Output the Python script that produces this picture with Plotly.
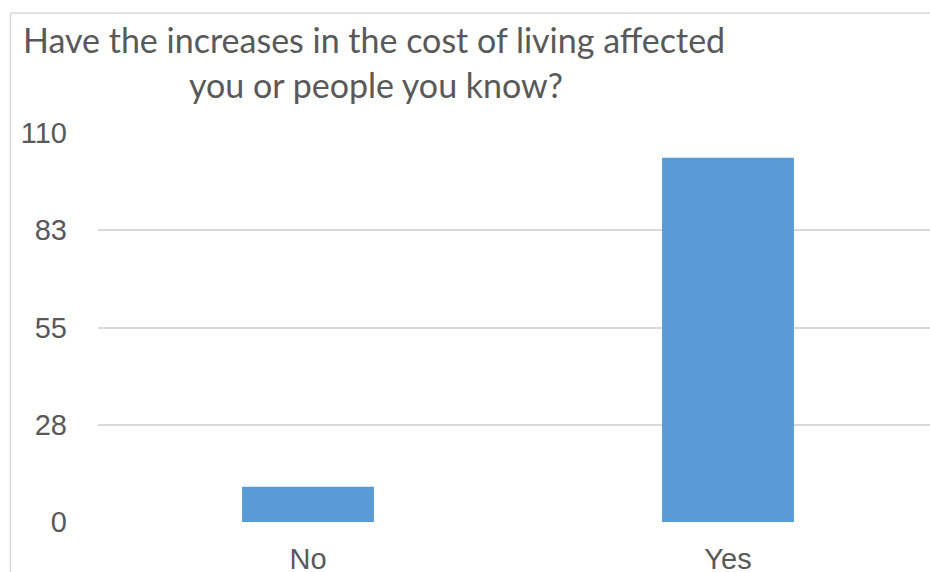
import plotly.graph_objects as go

categories = ["No", "Yes"]
values = [10, 103]
tick_values = [0, 27.5, 55, 82.5, 110]
tick_labels = ["0", "28", "55", "83", "110"]
title_lines = ["Have the increases in the cost of living affected", "you or people you know?"]

W, H = 930, 572
L, R, T, B = 98, 0, 133, 572 - 522
pw, ph = W - L - R, H - T - B

def px_x(x):
    return (x - L) / pw

def px_y(y):
    return (H - B - y) / ph

fig = go.Figure()
fig.add_trace(go.Bar(x=categories, y=values, marker=dict(color="#5b9bd5", line=dict(width=0)), width=0.314))

grid = "#d9d9d9"
txt = "#595959"

fig.update_layout(
    width=W, height=H,
    margin=dict(l=L, r=R, t=T, b=B, autoexpand=False),
    plot_bgcolor="white", paper_bgcolor="white",
    showlegend=False,
    xaxis=dict(range=[-0.5, 1.5 - 8 / 420], showgrid=False, zeroline=False, showline=False,
               ticks="", tickfont=dict(family="Liberation Sans, Arial", size=29, color=txt),
               ticklabelstandoff=17),
    yaxis=dict(range=[0, 110], tickvals=tick_values, ticktext=tick_labels, showgrid=True,
               gridcolor=grid, gridwidth=2, zeroline=False, showline=False, ticks="",
               tickfont=dict(family="Liberation Sans, Arial", size=29, color=txt),
               ticklabelstandoff=30),
    shapes=[
        dict(type="line", xref="paper", yref="paper", x0=px_x(10.5), x1=px_x(10.5), y0=px_y(13), y1=px_y(600),
             line=dict(color=grid, width=1.5)),
        dict(type="line", xref="paper", yref="paper", x0=px_x(10.5), x1=px_x(960), y0=px_y(13), y1=px_y(13),
             line=dict(color=grid, width=1.5)),
    ],
    annotations=[
        dict(text=title_lines[0], xref="paper", yref="paper", x=px_x(374), y=px_y(39), xanchor="center",
             yanchor="middle", showarrow=False, font=dict(family="Lato", size=34, color=txt)),
        dict(text=title_lines[1], xref="paper", yref="paper", x=px_x(376), y=px_y(84), xanchor="center",
             yanchor="middle", showarrow=False, font=dict(family="Lato", size=34, color=txt)),
    ],
)

fig.write_html(
    "out.html",
    config={"displayModeBar": False},
    post_script="document.body.style.margin='0';document.body.style.overflow='hidden';",
)
